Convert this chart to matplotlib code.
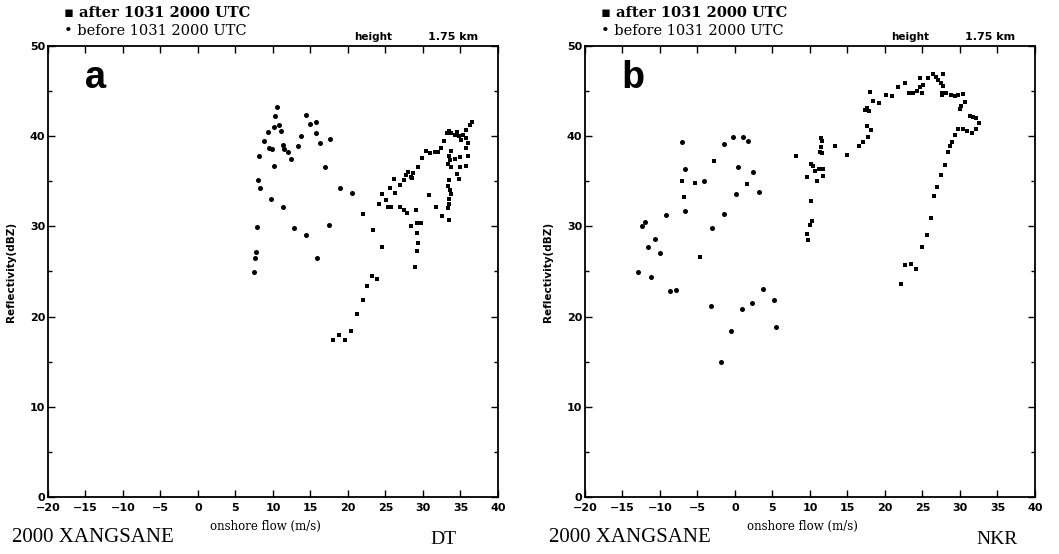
import matplotlib
matplotlib.use("Agg")
import matplotlib.pyplot as plt
from matplotlib.ticker import MultipleLocator

# panel a (DT)
dt_before_x = [10.6, 10.3, 10.1, 9.4, 10.8, 11.1, 8.8, 9.5, 9.9, 8.2, 11.4, 11.5, 12.0,
               12.4, 10.1, 8.0, 8.3, 9.7, 11.3, 7.9, 7.7, 7.6, 7.5, 14.4, 15.0, 15.7,
               13.8, 15.7, 13.4, 16.3, 17.6, 17.0, 18.9, 20.5, 12.8, 14.4, 17.5, 15.9]
dt_before_y = [43.2, 42.2, 41.0, 40.5, 41.2, 40.6, 39.5, 38.7, 38.6, 37.8, 39.0, 38.6, 38.3,
               37.5, 36.7, 35.1, 34.3, 33.0, 32.2, 29.9, 27.2, 26.5, 24.9, 42.3, 41.3, 41.6,
               40.0, 40.3, 38.9, 39.2, 39.7, 36.6, 34.3, 33.7, 29.8, 29.0, 30.1, 26.5]
dt_after_x = [22.0, 23.4, 24.5, 23.2, 23.9, 22.6, 22.0, 21.2, 20.4, 18.8, 18.0, 19.6,
              24.1, 24.6, 25.1, 25.4, 25.8, 25.6, 26.1, 26.3, 26.9, 27.5, 27.8, 28.0,
              28.4, 28.7, 28.5, 29.3, 29.9, 30.4, 31.0, 31.6, 32.0, 32.4, 32.8, 33.2,
              33.5, 33.8, 34.3, 34.6, 34.8, 35.1, 35.4, 35.8, 36.3, 36.6,
              33.7, 33.5, 33.6, 33.4, 33.8, 34.3, 34.9, 34.9, 35.8, 36.0, 35.8, 36.0,
              35.7, 34.6, 34.8, 33.5, 33.4, 33.6, 33.7, 33.5, 33.5, 33.4, 33.5, 32.5,
              31.7, 30.8, 29.1, 28.4, 29.2, 29.8, 29.2, 29.4, 29.2, 28.9, 26.9, 27.5, 27.9]
dt_after_y = [31.4, 29.6, 27.7, 24.5, 24.2, 23.4, 21.8, 20.3, 18.4, 18.0, 17.4, 17.4,
              32.5, 33.6, 32.9, 32.1, 32.2, 34.3, 35.3, 33.7, 34.6, 35.1, 35.7, 36.0,
              35.5, 35.9, 35.4, 36.6, 37.6, 38.4, 38.1, 38.2, 38.3, 38.7, 39.5, 40.3,
              40.6, 40.4, 40.1, 40.5, 40.0, 39.6, 40.1, 40.7, 41.2, 41.6,
              38.4, 37.8, 37.4, 36.9, 36.6, 37.5, 37.7, 36.6, 36.7, 37.8, 38.7, 39.2,
              39.8, 35.8, 35.3, 35.1, 34.5, 34.0, 33.6, 33.0, 32.5, 32.0, 30.7, 31.2,
              32.2, 33.5, 31.8, 30.0, 30.4, 30.4, 29.3, 28.2, 27.3, 25.5, 32.1, 31.8, 31.5]

# panel b (NKR)
nkr_before_x = [-7.1, -1.5, -0.2, 1.1, 1.8, -6.7, 0.4, 2.4, -4.1, 0.1, 3.2, -6.6, -9.2,
                -1.5, -12.0, -12.4, -3.0, -10.7, -11.6, -10.0, -12.9, -11.2, -8.6, -7.8,
                3.7, 5.2, 2.3, 0.9, -3.2, -0.5, -1.9, 5.5]
nkr_before_y = [39.3, 39.1, 39.9, 39.9, 39.5, 36.4, 36.6, 36.0, 35.0, 33.6, 33.8, 31.7, 31.3,
                31.4, 30.5, 30.0, 29.8, 28.6, 27.7, 27.0, 24.9, 24.4, 22.8, 22.9,
                23.1, 21.8, 21.5, 20.8, 21.2, 18.4, 15.0, 18.8]
nkr_after_x = [-2.8, -7.0, -5.3, 1.6, -6.8, -4.6,
               8.1, 11.5, 11.6, 11.5, 11.3, 11.6, 10.1, 10.4, 10.7, 11.2, 11.8, 11.7,
               9.6, 10.9, 13.4, 14.9, 16.6, 17.1, 17.7, 17.6, 18.1, 17.3, 17.6, 17.9,
               18.0, 18.4, 19.2, 20.1, 21.0, 21.8, 22.7, 23.2, 23.7, 24.3, 24.7, 24.7,
               25.1, 25.0, 25.8, 26.4, 26.8, 27.7, 27.1, 27.5, 27.8, 27.6, 27.6, 28.2,
               28.8, 29.3, 29.8, 30.4, 30.7, 30.2, 30.0, 31.3, 31.8, 32.2, 32.6, 32.2,
               31.6, 31.0, 30.4, 29.7, 29.3, 28.9, 28.7, 28.4, 28.0, 27.5, 27.0, 26.5,
               10.2, 10.3, 10.0, 9.6, 9.8, 26.1, 25.6, 24.9, 22.7, 23.5, 24.1, 22.1]
nkr_after_y = [37.3, 35.0, 34.8, 34.7, 33.3, 26.6,
               37.8, 39.8, 39.5, 38.8, 38.2, 38.1, 36.9, 36.7, 36.1, 36.4, 36.4, 35.6,
               35.5, 35.0, 38.9, 37.9, 38.9, 39.3, 39.9, 41.1, 40.7, 42.9, 43.1, 42.8,
               44.9, 43.9, 43.7, 44.6, 44.5, 45.5, 45.9, 44.8, 44.8, 45.0, 45.4, 46.4,
               45.7, 44.8, 46.5, 46.9, 46.6, 46.9, 46.2, 45.9, 45.6, 44.8, 44.6, 44.8,
               44.6, 44.4, 44.6, 44.7, 43.8, 43.4, 43.0, 42.2, 42.1, 42.0, 41.5, 40.8,
               40.3, 40.6, 40.8, 40.8, 40.1, 39.4, 38.9, 38.3, 36.8, 35.7, 34.4, 33.4,
               32.8, 30.6, 30.2, 29.2, 28.5, 30.9, 29.1, 27.7, 25.7, 25.8, 25.3, 23.6]

panels = [
    ('a', 'DT', dt_after_x, dt_after_y, dt_before_x, dt_before_y, 0.0453),
    ('b', 'NKR', nkr_after_x, nkr_after_y, nkr_before_x, nkr_before_y, 0.5524),
]

fig = plt.figure(figsize=(10.59, 5.54), dpi=100)

for letter, station, ax_x, ax_y, bx, by, left in panels:
    ax = fig.add_axes([left, 0.1029, 0.4249, 0.8141])
    ax.scatter(ax_x, ax_y, marker='s', s=11, c='black', linewidths=0)
    ax.scatter(bx, by, marker='o', s=13, c='black', linewidths=0)
    ax.set_xlim(-20, 40)
    ax.set_ylim(0, 50)
    ax.xaxis.set_major_locator(MultipleLocator(5))
    ax.yaxis.set_major_locator(MultipleLocator(10))
    ax.yaxis.set_minor_locator(MultipleLocator(5))
    ax.tick_params(which='both', direction='in', top=True, right=True,
                   labelsize=8, width=1.0)
    ax.tick_params(axis='x', pad=4)
    ax.tick_params(axis='y', pad=2)
    ax.tick_params(which='major', length=5)
    ax.tick_params(which='minor', length=3)
    for lab in ax.get_xticklabels() + ax.get_yticklabels():
        lab.set_fontweight('bold')
    for sp in ax.spines.values():
        sp.set_linewidth(1.3)
    ax.set_ylabel('Reflectivity(dBZ)', fontsize=7.5, fontweight='bold', labelpad=10)

    ax.text(0.08, 0.93, letter, transform=ax.transAxes, fontsize=28,
            fontweight='bold', family='Liberation Mono', va='center', ha='left')

    # legend-like header
    ax.text(0.035, 1.073, '\u25aa after 1031 2000 UTC', transform=ax.transAxes,
            fontsize=10.5, fontweight='bold', family='DejaVu Serif',
            va='center', ha='left')
    ax.text(0.035, 1.033, '\u2022 before 1031 2000 UTC', transform=ax.transAxes,
            fontsize=10.5, family='DejaVu Serif', va='center', ha='left')
    ax.text(0.68, 1.008, 'height', transform=ax.transAxes, fontsize=7.5,
            fontweight='bold', va='bottom', ha='left')
    ax.text(0.845, 1.008, '1.75 km', transform=ax.transAxes, fontsize=8,
            fontweight='bold', va='bottom', ha='left')

    # footer
    ax.text(-0.08, -0.09, '2000 XANGSANE', transform=ax.transAxes, fontsize=15,
            family='Liberation Serif', va='center', ha='left')
    ax.text(0.36, -0.065, 'onshore flow (m/s)', transform=ax.transAxes, fontsize=8.5,
            family='DejaVu Serif', va='center', ha='left')
    ax.text(0.85 if station == 'DT' else 0.87, -0.095, station, transform=ax.transAxes,
            fontsize=14, family='Liberation Serif', va='center', ha='left')

fig.savefig('out.png', dpi=100)
